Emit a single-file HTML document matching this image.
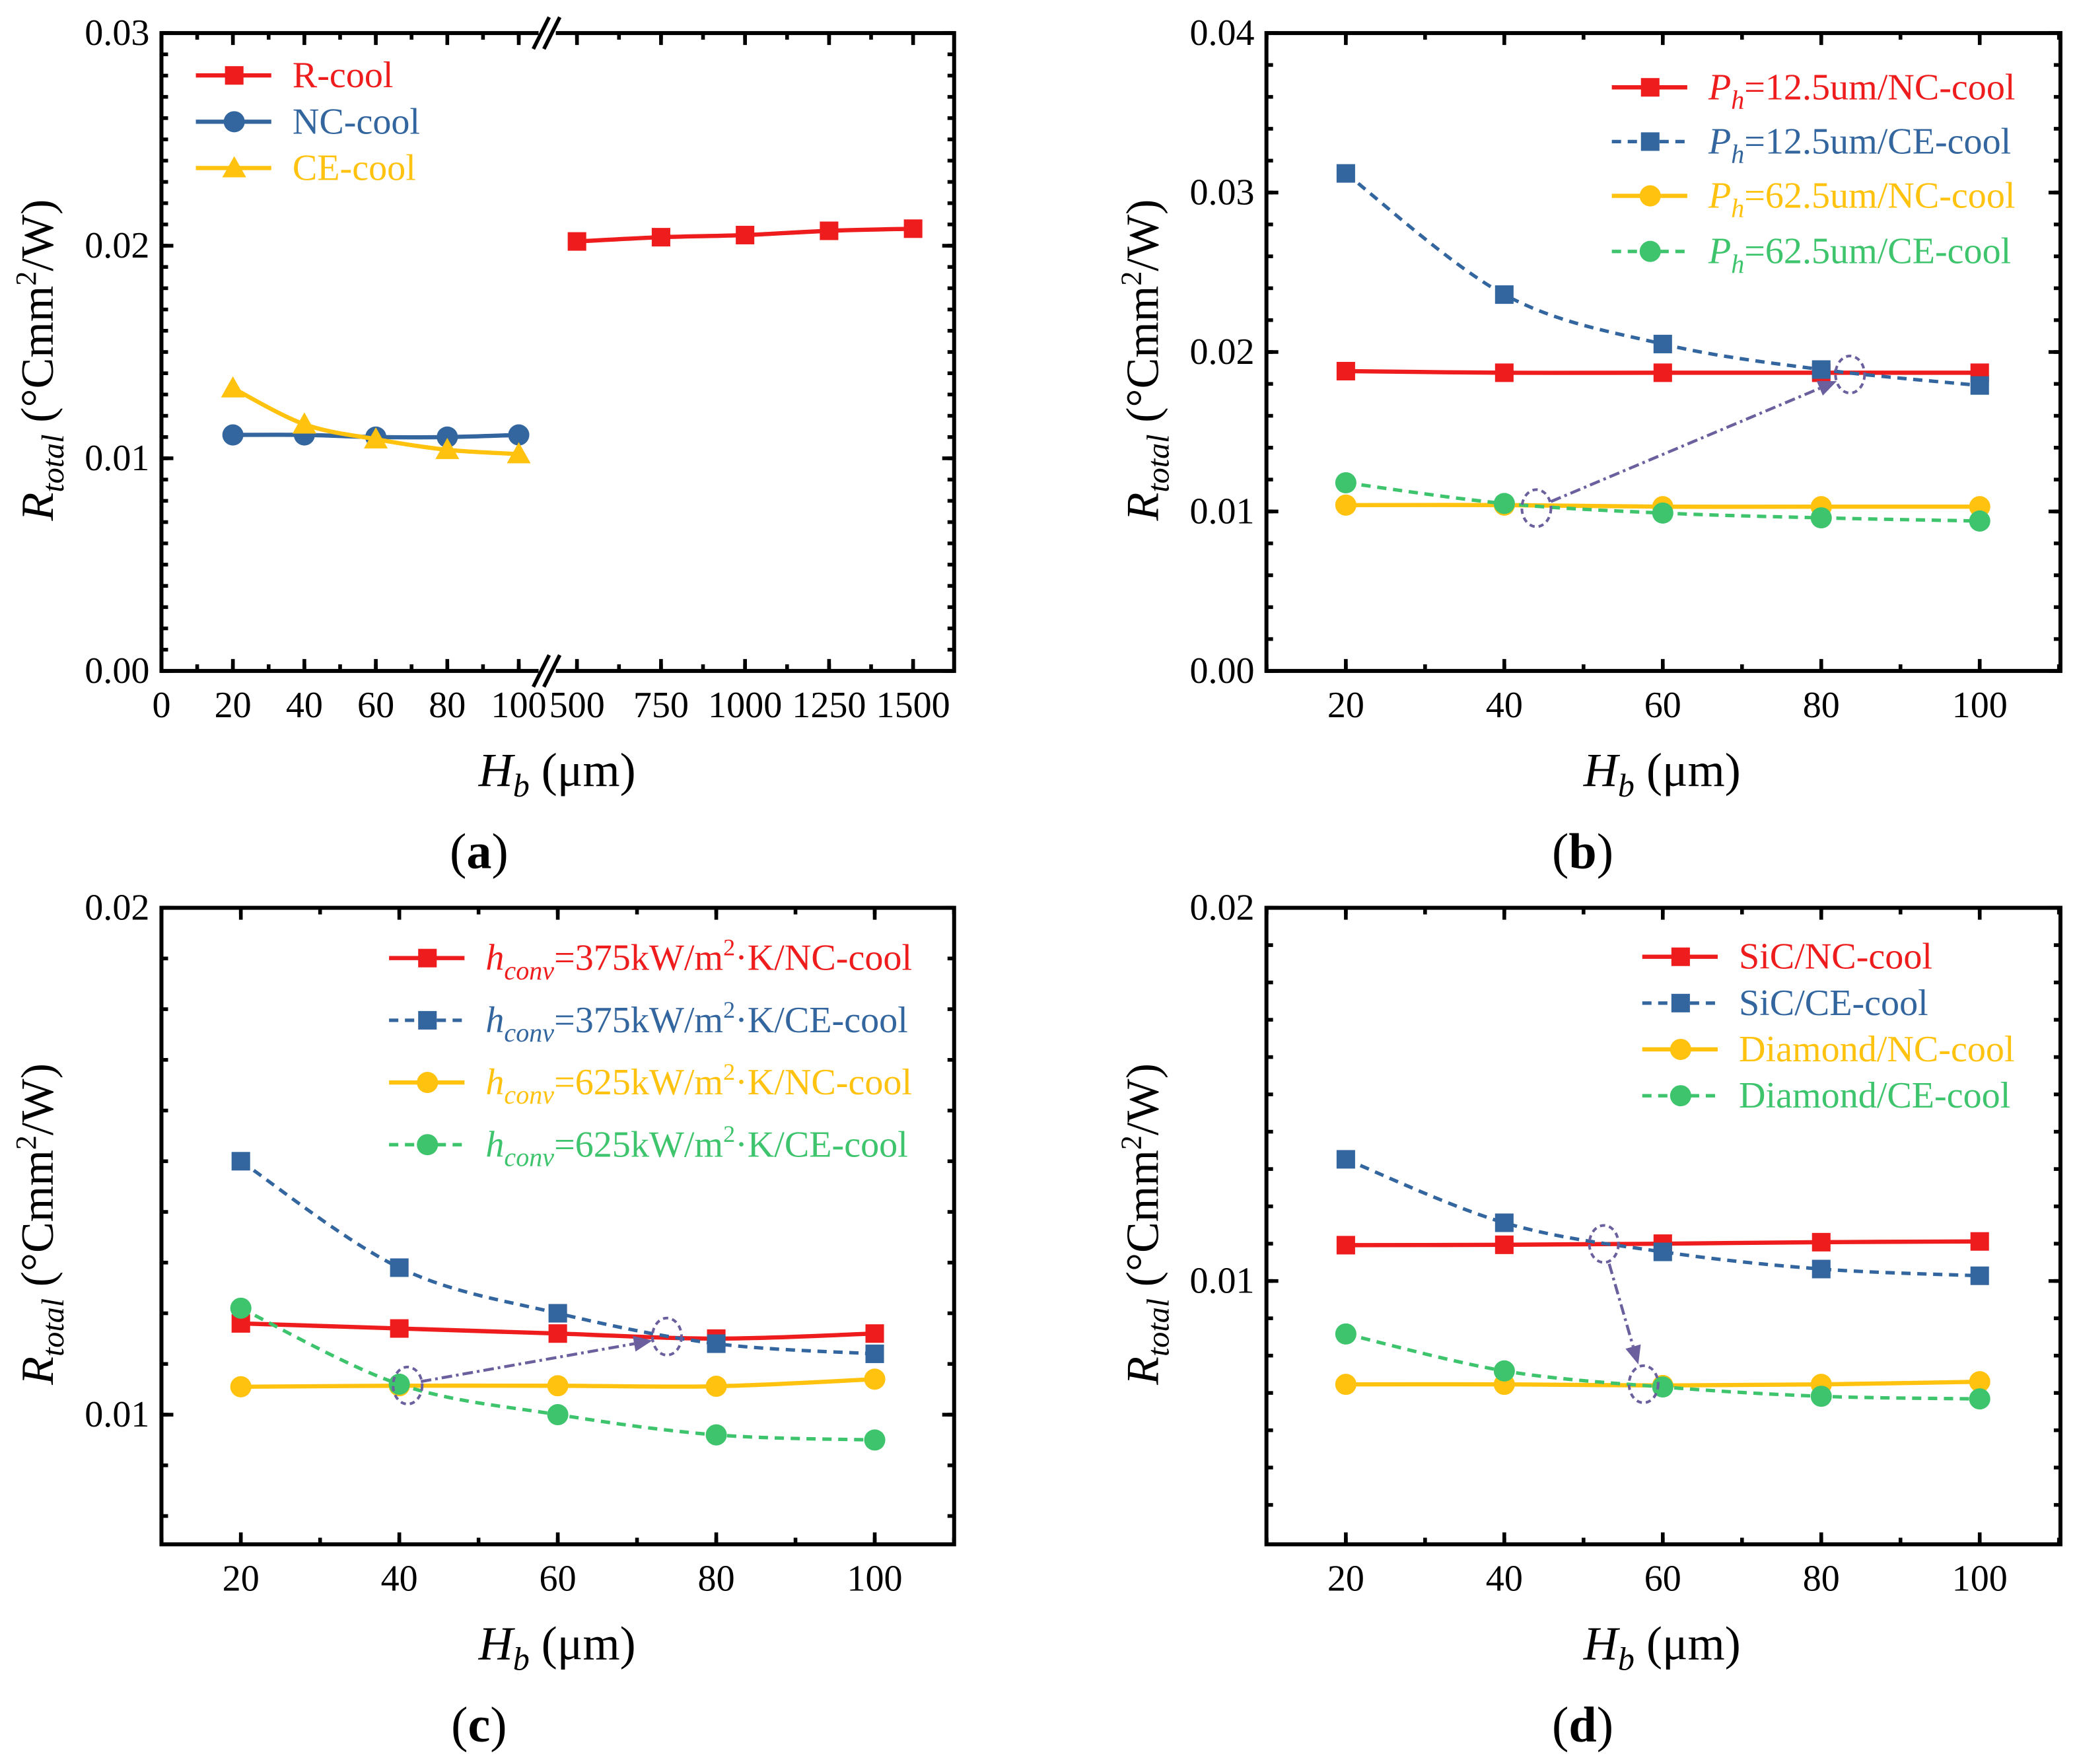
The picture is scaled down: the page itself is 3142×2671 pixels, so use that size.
<!DOCTYPE html>
<html><head><meta charset="utf-8">
<style>html,body{margin:0;padding:0;background:#fff;}svg{display:block;font-family:"Liberation Serif",serif;}</style>
</head><body>
<svg id="fig" width="3142" height="2671" viewBox="0 0 1568 1333" preserveAspectRatio="none" xmlns="http://www.w3.org/2000/svg">
<rect width="1568" height="1333" fill="#fff"/>
</svg>
<script>
// ---------- Data ----------
const xA1 = [20, 40, 60, 80, 100];
const xA2 = [500, 750, 1000, 1250, 1500];
const aRcool = [0.0202, 0.0204, 0.0205, 0.0207, 0.0208];
const aNCcool = [0.0111, 0.0111, 0.0110, 0.0110, 0.0111];
const aCEcool = [0.0133, 0.0116, 0.0109, 0.0104, 0.0102];
const xB = [20, 40, 60, 80, 100];
const b125NC = [0.0188, 0.0187, 0.0187, 0.0187, 0.0187];
const b125CE = [0.0312, 0.0236, 0.0205, 0.0189, 0.0179];
const b625NC = [0.0104, 0.0104, 0.0103, 0.0103, 0.0103];
const b625CE = [0.0118, 0.0105, 0.0099, 0.0096, 0.0094];
const c375NC = [0.0118, 0.0117, 0.0116, 0.0115, 0.0116];
const c375CE = [0.0150, 0.0129, 0.0120, 0.0114, 0.0112];
const c625NC = [0.01055, 0.01057, 0.01057, 0.01056, 0.0107];
const c625CE = [0.0121, 0.0106, 0.0100, 0.0096, 0.0095];
const dSiCNC = [0.01096, 0.01097, 0.0110, 0.01104, 0.01106];
const dSiCCE = [0.01326, 0.01156, 0.01078, 0.01032, 0.01014];
const dDiaNC = [0.00723, 0.00723, 0.0072, 0.00723, 0.0073];
const dDiaCE = [0.00858, 0.00759, 0.00716, 0.00691, 0.00684];
const yTicksA = [0, 0.01, 0.02, 0.03];
const yTickLabelsA = ["0.00", "0.01", "0.02", "0.03"];
const yTicksB = [0, 0.01, 0.02, 0.03, 0.04];
const yTickLabelsB = ["0.00", "0.01", "0.02", "0.03", "0.04"];
const yTicksCD = [0.01, 0.02];
const yTickLabelsCD = ["0.01", "0.02"];
const xTicksA1 = [0, 20, 40, 60, 80, 100];
const xTicksA2 = [500, 750, 1000, 1250, 1500];
const xTicksB = [20, 40, 60, 80, 100];

const RED = "#ee1c1c", BLUE = "#33669e", YEL = "#ffc20e", GRN = "#3dc46c", PUR = "#6b5f9e";
const NS = "http://www.w3.org/2000/svg";
const svg = document.getElementById('fig');
function mk(tag, attrs, parent) {
  const e = document.createElementNS(NS, tag);
  for (const k in attrs) e.setAttribute(k, attrs[k]);
  (parent || svg).appendChild(e);
  return e;
}
function smoothPath(pts) {
  let d = "M" + pts[0][0] + "," + pts[0][1];
  for (let i = 0; i < pts.length - 1; i++) {
    const p0 = pts[i - 1] || pts[i], p1 = pts[i], p2 = pts[i + 1], p3 = pts[i + 2] || p2;
    const c1 = [p1[0] + (p2[0] - p0[0]) / 6, p1[1] + (p2[1] - p0[1]) / 6];
    const c2 = [p2[0] - (p3[0] - p1[0]) / 6, p2[1] - (p3[1] - p1[1]) / 6];
    d += " C" + c1 + " " + c2 + " " + p2;
  }
  return d;
}
function marker(g, type, x, y, color) {
  let e;
  if (type === 'sq') e = mk('rect', {x: x - 7, y: y - 7, width: 14, height: 14, fill: color}, g);
  else if (type === 'ci') e = mk('circle', {cx: x, cy: y, r: 8, fill: color}, g);
  else e = mk('polygon', {points: (x) + "," + (y - 9) + " " + (x - 9) + "," + (y + 7) + " " + (x + 9) + "," + (y + 7), fill: color}, g);
  
  
}
function series(name, xs, ys, fx, fy, color, mtype, dashed) {
  const g = mk('g', {});
  
  
  const pts = xs.map((v, i) => [fx(v), fy(ys[i])]);
  const p = mk('path', {d: smoothPath(pts), fill: 'none', stroke: color, 'stroke-width': dashed ? 2.6 : 3.2}, g);
  if (dashed) p.setAttribute('stroke-dasharray', '7 5');
  pts.forEach(q => marker(g, mtype, q[0], q[1], color));
}
function frame(name, L, R, T, B) {
  const r = mk('rect', {x: L, y: T, width: R - L, height: B - T, fill: 'none', stroke: '#000', 'stroke-width': 3});
  
  
}
function yticks(L, R, vals, fy, len) {
  vals.forEach(v => {
    const y = fy(v);
    mk('line', {x1: L, y1: y, x2: L + len, y2: y, stroke: '#000', 'stroke-width': 2.8});
    mk('line', {x1: R, y1: y, x2: R - len, y2: y, stroke: '#000', 'stroke-width': 2.8});
  });
}
function xticks(T, B, vals, fx, len) {
  vals.forEach(v => {
    const x = fx(v);
    mk('line', {x1: x, y1: B, x2: x, y2: B - len, stroke: '#000', 'stroke-width': 2.8});
    mk('line', {x1: x, y1: T, x2: x, y2: T + len, stroke: '#000', 'stroke-width': 2.8});
  });
}
function ylabels(L, vals, labels, fy) {
  vals.forEach((v, i) => {
    const t = mk('text', {x: L - 9, y: fy(v) + 9, 'text-anchor': 'end', 'font-size': 28});
    t.textContent = labels[i];
    
    
  });
}
function xlabels(B, vals, labels, fx) {
  vals.forEach((v, i) => {
    const t = mk('text', {x: fx(v), y: B + 35, 'text-anchor': 'middle', 'font-size': 28});
    t.textContent = labels[i];
    
    
  });
}
function range(a, b, s) { const r = []; for (let v = a; v <= b + 1e-9; v += s) r.push(+v.toFixed(6)); return r; }
function ytitle(cx, cy) {
  const t = mk('text', {transform: 'translate(' + cx + ',' + cy + ') rotate(-90)', 'text-anchor': 'middle', 'font-size': 35});
  
  
  t.innerHTML = '<tspan font-style="italic">R</tspan><tspan font-style="italic" font-size="24" dy="8">total</tspan><tspan dy="-8"> (°Cmm</tspan><tspan font-size="22" dy="-13">2</tspan><tspan dy="13">/W)</tspan>';
}
function xtitle(cx, y) {
  const t = mk('text', {x: cx, y: y, 'text-anchor': 'middle', 'font-size': 36});
  
  
  t.innerHTML = '<tspan font-style="italic">H</tspan><tspan font-style="italic" font-size="25" dy="8">b</tspan><tspan dy="-8"> (μm)</tspan>';
}
function plabel(cx, y, l) {
  const t = mk('text', {x: cx, y: y, 'text-anchor': 'middle', 'font-size': 38});
  
  
  t.innerHTML = '(<tspan font-weight="bold">' + l + '</tspan>)';
}
function legend(x0, y, color, mtype, dashed, html, fs) {
  const g = mk('g', {});
  
  
  const l = mk('line', {x1: x0, y1: y, x2: x0 + 57, y2: y, stroke: color, 'stroke-width': dashed ? 2.6 : 3.2}, g);
  if (dashed) l.setAttribute('stroke-dasharray', '7 5');
  marker(g, mtype, x0 + 29, y, color);
  const t = mk('text', {x: x0 + 73, y: y + 9, fill: color, 'font-size': fs || 28}, g);
  t.innerHTML = html;
}
function ann(e1, e2, a1, a2) {
  const g = mk('g', {});
  
  
  [e1, e2].forEach(e => mk('ellipse', {cx: e[0], cy: e[1], rx: 11, ry: 14, fill: 'none', stroke: PUR, 'stroke-width': 2, 'stroke-dasharray': '4 3'}, g));
  const ang = Math.atan2(a2[1] - a1[1], a2[0] - a1[0]);
  const bx = a2[0] - 14 * Math.cos(ang), by = a2[1] - 14 * Math.sin(ang);
  mk('line', {x1: a1[0], y1: a1[1], x2: bx, y2: by, stroke: PUR, 'stroke-width': 2.2, 'stroke-dasharray': '8 3 2 3'}, g);
  const px = -Math.sin(ang) * 6, py = Math.cos(ang) * 6;
  mk('polygon', {points: a2[0] + "," + a2[1] + " " + (bx + px) + "," + (by + py) + " " + (bx - px) + "," + (by - py), fill: PUR}, g);
}

// ---------- Panel a ----------
(function () {
  const L = 122, R = 721, T = 25, B = 507, BRK = 413;
  const fx1 = v => 122 + v * 2.7, fx2 = v => 436 + (v - 500) * 0.254;
  const fy = v => B - v / 0.03 * (B - T);
  frame('panel-a-frame', L, R, T, B);
  yticks(L, R, range(0, 0.03, 0.001), fy, 5);
  yticks(L, R, yTicksA, fy, 9);
  xticks(T, B, range(0, 100, 10), fx1, 5);
  xticks(T, B, xTicksA1, fx1, 9);
  xticks(T, B, range(500, 1500, 125), fx2, 5);
  xticks(T, B, xTicksA2, fx2, 9);
  mk('rect', {x: BRK - 6, y: T - 12, width: 13, height: 24, fill: '#fff'});
  mk('rect', {x: BRK - 6, y: B - 12, width: 13, height: 24, fill: '#fff'});
  [T, B].forEach(y => { [-4, 4].forEach(o => mk('line', {x1: BRK + o - 6, y1: y + 12, x2: BRK + o + 6, y2: y - 12, stroke: '#000', 'stroke-width': 2.8})); });
  ylabels(L, yTicksA, yTickLabelsA, fy);
  xlabels(B, xTicksA1, xTicksA1.map(String), fx1);
  xlabels(B, xTicksA2, xTicksA2.map(String), fx2);
  series('series-r-cool', xA2, aRcool, fx2, fy, RED, 'sq', false);
  series('series-nc-cool', xA1, aNCcool, fx1, fy, BLUE, 'ci', false);
  series('series-ce-cool', xA1, aCEcool, fx1, fy, YEL, 'tr', false);
  legend(148, 57, RED, 'sq', false, 'R-cool');
  legend(148, 92, BLUE, 'ci', false, 'NC-cool');
  legend(148, 127, YEL, 'tr', false, 'CE-cool');
  ytitle(40, 272); xtitle(421, 594); plabel(362, 656, 'a');
})();

// ---------- Panel b ----------
(function () {
  const L = 957, R = 1557, T = 25, B = 507;
  const fx = v => 1017 + (v - 20) * 5.9875;
  const fy = v => B - v / 0.04 * (B - T);
  frame('panel-b-frame', L, R, T, B);
  yticks(L, R, range(0, 0.04, 0.002), fy, 5);
  yticks(L, R, yTicksB, fy, 9);
  xticks(T, B, range(10, 110, 10), fx, 5);
  xticks(T, B, xTicksB, fx, 9);
  ylabels(L, yTicksB, yTickLabelsB, fy);
  xlabels(B, xTicksB, xTicksB.map(String), fx);
  series('series-ph12-nc', xB, b125NC, fx, fy, RED, 'sq', false);
  series('series-ph12-ce', xB, b125CE, fx, fy, BLUE, 'sq', true);
  series('series-ph62-nc', xB, b625NC, fx, fy, YEL, 'ci', false);
  series('series-ph62-ce', xB, b625CE, fx, fy, GRN, 'ci', true);
  const ph = (s) => '<tspan font-style="italic">P</tspan><tspan font-style="italic" font-size="20" dy="7">h</tspan><tspan dy="-7">=' + s + '</tspan>';
  legend(1218, 66, RED, 'sq', false, ph('12.5um/NC-cool'));
  legend(1218, 107, BLUE, 'sq', true, ph('12.5um/CE-cool'));
  legend(1218, 148, YEL, 'ci', false, ph('62.5um/NC-cool'));
  legend(1218, 190, GRN, 'ci', true, ph('62.5um/CE-cool'));
  ann([1161, 384], [1398, 283], [1172, 379], [1388, 288]);
  ytitle(875, 272); xtitle(1256, 594); plabel(1196, 656, 'b');
})();

// ---------- Panel c ----------
(function () {
  const L = 122, R = 721, T = 686, B = 1167;
  const fx = v => 182 + (v - 20) * 5.9875;
  const fy = v => T + (0.02 - v) / 0.01 * 383;
  frame('panel-c-frame', L, R, T, B);
  yticks(L, R, range(0.008, 0.02, 0.001), fy, 5);
  yticks(L, R, yTicksCD, fy, 9);
  xticks(T, B, range(10, 110, 10), fx, 5);
  xticks(T, B, xTicksB, fx, 9);
  ylabels(L, yTicksCD, yTickLabelsCD, fy);
  xlabels(B, xTicksB, xTicksB.map(String), fx);
  series('series-h375-nc', xB, c375NC, fx, fy, RED, 'sq', false);
  series('series-h375-ce', xB, c375CE, fx, fy, BLUE, 'sq', true);
  series('series-h625-nc', xB, c625NC, fx, fy, YEL, 'ci', false);
  series('series-h625-ce', xB, c625CE, fx, fy, GRN, 'ci', true);
  const hc = (s, r) => '<tspan font-style="italic">h</tspan><tspan font-style="italic" font-size="20" dy="7">conv</tspan><tspan dy="-7">=' + s + 'kW/m</tspan><tspan font-size="18" dy="-11">2</tspan><tspan dy="11">·K/' + r + '</tspan>';
  legend(294, 724, RED, 'sq', false, hc('375', 'NC-cool'));
  legend(294, 771, BLUE, 'sq', true, hc('375', 'CE-cool'));
  legend(294, 818, YEL, 'ci', false, hc('625', 'NC-cool'));
  legend(294, 865, GRN, 'ci', true, hc('625', 'CE-cool'));
  ann([308, 1047], [504, 1010], [318, 1044], [493, 1013]);
  ytitle(40, 925); xtitle(421, 1254); plabel(362, 1316, 'c');
})();

// ---------- Panel d ----------
(function () {
  const L = 957, R = 1557, T = 686, B = 1167;
  const fx = v => 1017 + (v - 20) * 5.9875;
  const fy = v => T + (0.02 - v) / 0.01 * 282;
  frame('panel-d-frame', L, R, T, B);
  yticks(L, R, range(0.004, 0.02, 0.001), fy, 5);
  yticks(L, R, yTicksCD, fy, 9);
  xticks(T, B, range(10, 110, 10), fx, 5);
  xticks(T, B, xTicksB, fx, 9);
  ylabels(L, yTicksCD, yTickLabelsCD, fy);
  xlabels(B, xTicksB, xTicksB.map(String), fx);
  series('series-sic-nc', xB, dSiCNC, fx, fy, RED, 'sq', false);
  series('series-sic-ce', xB, dSiCCE, fx, fy, BLUE, 'sq', true);
  series('series-diamond-nc', xB, dDiaNC, fx, fy, YEL, 'ci', false);
  series('series-diamond-ce', xB, dDiaCE, fx, fy, GRN, 'ci', true);
  legend(1241, 723, RED, 'sq', false, 'SiC/NC-cool');
  legend(1241, 758, BLUE, 'sq', true, 'SiC/CE-cool');
  legend(1241, 793, YEL, 'ci', false, 'Diamond/NC-cool');
  legend(1241, 828, GRN, 'ci', true, 'Diamond/CE-cool');
  ann([1212, 940], [1242, 1046], [1216, 955], [1238, 1031]);
  ytitle(875, 925); xtitle(1256, 1254); plabel(1196, 1316, 'd');
})();
</script>
</body></html>
